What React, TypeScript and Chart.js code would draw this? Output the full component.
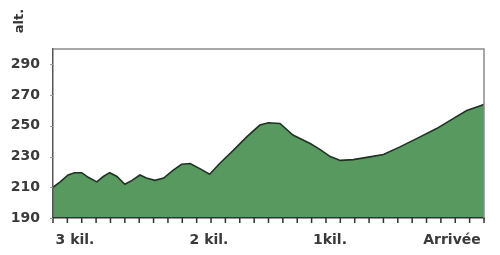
import React, { useEffect, useRef } from "react";
import { Chart, registerables } from "chart.js";

Chart.register(...registerables);

// distance along the climb, in 100 m steps from "3 kil." (0) to "Arrivée" (30)
const distances = [0, 0.5, 1.05, 1.5, 2, 2.45, 3.05, 3.5, 3.95, 4.45, 5, 5.5, 6.05, 6.5, 7.1, 7.7, 8.35, 8.95, 9.55, 10.25, 10.9, 11.6, 12.55, 13.5, 14.4, 15, 15.8, 16.7, 17.9, 18.6, 19.3, 20, 20.9, 22.05, 23, 24.15, 25.55, 26.7, 27.85, 28.8, 29.8, 30];
const altitudes = [210, 213.5, 218, 219.5, 219.5, 216.5, 213.5, 217, 219.5, 217, 212, 214.5, 218, 216, 214.5, 216, 221, 225, 225.5, 222, 218.5, 225.5, 234, 243, 250.5, 252, 251.5, 244, 238.5, 234.5, 230, 227.5, 228, 229.8, 231.3, 236.3, 242.8, 248.2, 254.7, 260, 263.3, 264];

const xTickLabels = ["3 kil.", "2 kil.", "1kil.", "Arrivée"];
const xTickLabelAt = [1.53, 10.86, 19.28, 27.77];
const xTickStep = 1; // a tick mark every 100 m
const yTicks = [190, 210, 230, 250, 270, 290];
const yTitle = "alt.";

const FONT = "'DejaVu Sans', sans-serif";
const TEXT = "#3a3a3a";

export default function App() {
  const ref = useRef<HTMLCanvasElement | null>(null);

  useEffect(() => {
    if (!ref.current) return;
    const framePlugin = {
      id: "frame",
      afterDraw(chart: any) {
        const { ctx, chartArea } = chart;
        ctx.save();
        // top and right frame
        ctx.strokeStyle = "#8a8a8a";
        ctx.lineWidth = 1.5;
        ctx.beginPath();
        ctx.moveTo(chartArea.left, chartArea.top);
        ctx.lineTo(chartArea.right, chartArea.top);
        ctx.lineTo(chartArea.right, chartArea.bottom);
        ctx.stroke();
        // tick marks of the x scale
        const xs = chart.scales.x;
        ctx.strokeStyle = "#333";
        ctx.lineWidth = 1.5;
        ctx.beginPath();
        for (let v = xs.min; v <= xs.max + 1e-9; v += xTickStep) {
          const px = xs.getPixelForValue(v);
          ctx.moveTo(px, chartArea.bottom);
          ctx.lineTo(px, chartArea.bottom + 5);
        }
        ctx.stroke();
        // tick marks of the y scale
        const ys = chart.scales.y;
        ctx.strokeStyle = "#999";
        ctx.lineWidth = 1;
        ctx.beginPath();
        for (const v of yTicks) {
          const py = Math.round(ys.getPixelForValue(v)) + 0.5;
          ctx.moveTo(chartArea.left - 3, py);
          ctx.lineTo(chartArea.left, py);
        }
        ctx.stroke();
        // rotated axis title at top-left
        ctx.translate(20, 21);
        ctx.rotate(-Math.PI / 2);
        ctx.font = `bold 13px ${FONT}`;
        ctx.fillStyle = "#333";
        ctx.textAlign = "center";
        ctx.textBaseline = "middle";
        ctx.fillText(yTitle, 0, 0);
        ctx.restore();
      },
    };

    const chart = new Chart(ref.current, {
      type: "line",
      data: {
        datasets: [
          {
            data: distances.map((d, i) => ({ x: d, y: altitudes[i] })),
            xAxisID: "x",
            yAxisID: "y",
            borderColor: "#1f3324",
            borderWidth: 1.6,
            backgroundColor: "#57995f",
            fill: "start",
            tension: 0,
            pointRadius: 0,
          },
        ],
      },
      options: {
        animation: false,
        responsive: false,
        layout: { padding: { top: 49, right: 16, left: 0, bottom: 0 } },
        plugins: { legend: { display: false }, tooltip: { enabled: false } },
        scales: {
          x: {
            type: "linear",
            position: "bottom",
            weight: 0,
            min: 0,
            max: 30,
            ticks: { display: false },
            grid: { drawOnChartArea: false, drawTicks: false },
            border: { display: true, color: "#333", width: 1.5, z: 2 },
            afterFit: (s: any) => {
              s.height = 6;
            },
          },
          x2: {
            type: "linear",
            position: "bottom",
            weight: 1,
            min: 0,
            max: 30,
            afterBuildTicks: (s: any) => {
              s.ticks = xTickLabelAt.map((v) => ({ value: v }));
            },
            ticks: {
              callback: (_v: any, i: number) => xTickLabels[i],
              font: { family: FONT, size: 14, weight: "bold" },
              color: TEXT,
              padding: 0,
              maxRotation: 0,
              autoSkip: false,
            },
            grid: { display: false },
            border: { display: false },
            afterFit: (s: any) => {
              s.height = 31;
            },
          },
          y: {
            min: 190,
            max: 300,
            afterBuildTicks: (s: any) => {
              s.ticks = yTicks.map((v) => ({ value: v }));
            },
            ticks: {
              font: { family: FONT, size: 14, weight: "bold" },
              color: TEXT,
              padding: 13,
            },
            grid: { drawOnChartArea: false, drawTicks: false },
            border: { display: true, color: "#555", width: 1.5, z: 2 },
            afterFit: (s: any) => {
              s.width = 53;
            },
          },
        },
      },
      plugins: [framePlugin],
    } as any);
    return () => chart.destroy();
  }, []);

  return (
    <div style={{ position: "absolute", left: 0, top: 0, width: 500, height: 255, background: "#fff" }}>
      <canvas ref={ref} width={500} height={255} />
    </div>
  );
}
